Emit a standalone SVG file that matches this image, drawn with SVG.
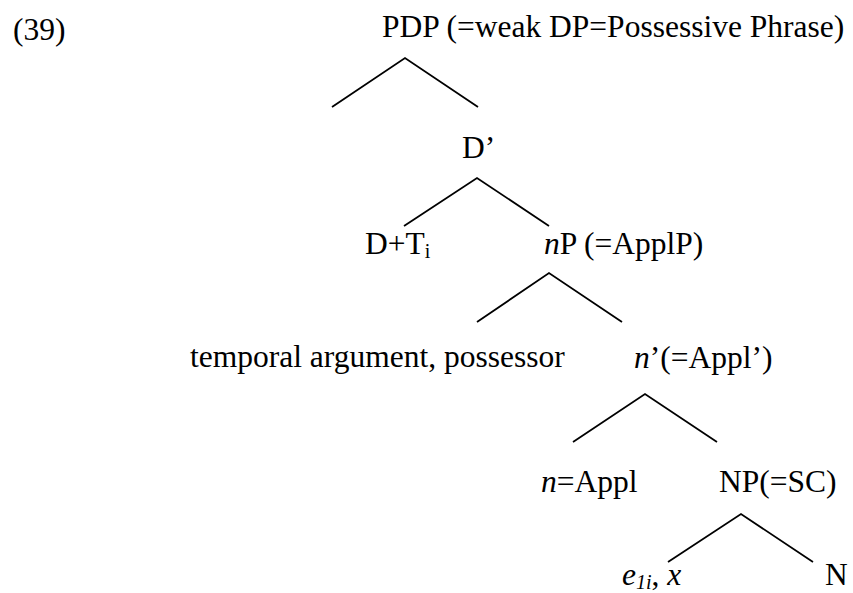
<svg xmlns="http://www.w3.org/2000/svg" width="853" height="593" viewBox="0 0 853 593">
  <style>
    .it { font-style: italic; }
    .sub { font-size: 20px; }
    .edge { stroke: #000; stroke-width: 1.8; fill: none; }
  </style>
  <rect width="853" height="593" fill="#fff"/>

  <text id="example-number" x="13" y="39.5" font-size="31.5" font-family="'Liberation Serif'">(39)</text>

  <!-- branches of the tree -->
  <g id="connectors">
    <polyline class="edge" points="332,107 405,58 478,107"/>
    <polyline class="edge" points="404,226 477,178 549,226"/>
    <polyline class="edge" points="477,322 549,273 622,322"/>
    <polyline class="edge" points="573,442 645,394 717,442"/>
    <polyline class="edge" points="668,562 741,514 813,562"/>
  </g>

  <g id="node-pdp"><text x="382" y="37" font-size="31.5" font-family="'Liberation Serif'">PDP (=weak DP=Possessive Phrase)</text></g>
  <g id="node-dbar"><text x="462" y="158" font-size="31.5" font-family="'Liberation Serif'">D’</text></g>
  <g id="node-dt"><text x="365" y="254" font-size="31.5" font-family="'Liberation Serif'">D+T<tspan class="sub" dy="4">i</tspan></text></g>
  <g id="node-np-appl"><text x="544" y="254" font-size="31.5" font-family="'Liberation Serif'"><tspan class="it">n</tspan>P (=ApplP)</text></g>
  <g id="node-temporal"><text x="190" y="367" font-size="31.5" font-family="'Liberation Serif'">temporal argument, possessor</text></g>
  <g id="node-nbar"><text x="634" y="368" font-size="31.5" font-family="'Liberation Serif'"><tspan class="it">n</tspan>’(=Appl’)</text></g>
  <g id="node-n-appl"><text x="541" y="492" font-size="31.5" font-family="'Liberation Serif'"><tspan class="it">n</tspan>=Appl</text></g>
  <g id="node-np-sc"><text x="719" y="492" font-size="31.5" font-family="'Liberation Serif'">NP(=SC)</text></g>
  <g id="node-e"><text x="622" y="585" font-size="31.5" font-family="'Liberation Serif'"><tspan class="it">e</tspan><tspan class="it sub" dy="4">1i</tspan><tspan dy="-4">, </tspan><tspan class="it">x</tspan></text></g>
  <g id="node-n"><text x="825" y="585" font-size="31.5" font-family="'Liberation Serif'">N</text></g>
</svg>
